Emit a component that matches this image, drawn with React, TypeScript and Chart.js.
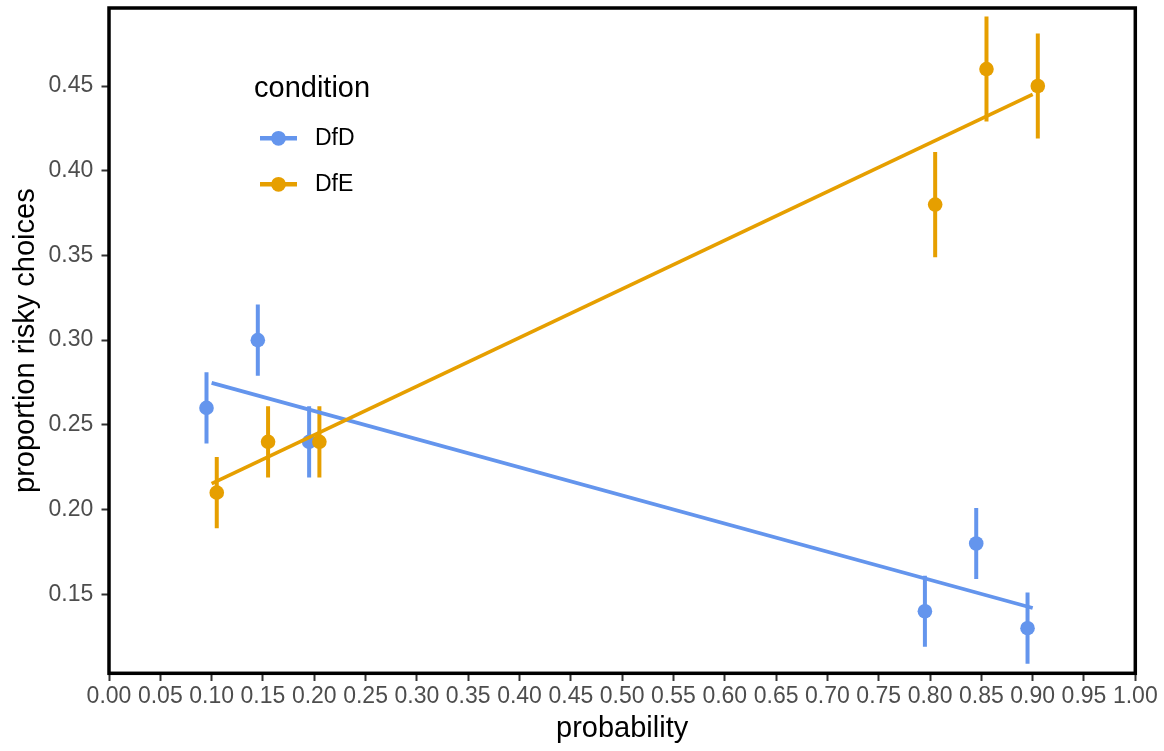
import React, { useEffect, useRef } from "react";
import { Chart, registerables } from "chart.js";

Chart.register(...registerables);

// ---- data ----
const conditionLabels = ["DfD", "DfE"];
const conditionColors = ["#6495ED", "#E69F00"];

// dodged probability positions
const dfdX = [0.095, 0.145, 0.195, 0.795, 0.845, 0.895];
const dfeX = [0.105, 0.155, 0.205, 0.805, 0.855, 0.905];

const dfdValues = [0.26, 0.3, 0.24, 0.14, 0.18, 0.13];
const dfeValues = [0.21, 0.24, 0.24, 0.38, 0.46, 0.45];

const dfdErrors = [0.021, 0.021, 0.021, 0.021, 0.021, 0.021];
const dfeErrors = [0.021, 0.021, 0.021, 0.031, 0.031, 0.031];

// fitted regression lines (endpoints)
const dfdFitX = [0.1, 0.9];
const dfdFitY = [0.2748, 0.1419];
const dfeFitX = [0.1, 0.9];
const dfeFitY = [0.2153, 0.4451];

const xTickValues = [
  0, 0.05, 0.1, 0.15, 0.2, 0.25, 0.3, 0.35, 0.4, 0.45, 0.5, 0.55, 0.6, 0.65,
  0.7, 0.75, 0.8, 0.85, 0.9, 0.95, 1.0,
];
const yTickValues = [0.15, 0.2, 0.25, 0.3, 0.35, 0.4, 0.45];

const xTitle = "probability";
const yTitle = "proportion risky choices";
const legendTitle = "condition";

const FONT = "'Liberation Sans', Arial, Helvetica, sans-serif";

function points(xs: number[], ys: number[]) {
  return xs.map((x, i) => ({ x, y: ys[i] }));
}

function errorSegments(xs: number[], ys: number[], es: number[]) {
  const out: { x: number; y: number | null }[] = [];
  xs.forEach((x, i) => {
    out.push({ x, y: ys[i] - es[i] });
    out.push({ x, y: ys[i] + es[i] });
    out.push({ x, y: null });
  });
  return out;
}

const panelPlugin = {
  id: "panelAndLegend",
  afterDatasetsDraw(chart: any) {
    const { ctx, chartArea: a } = chart;
    ctx.save();
    // panel border
    ctx.strokeStyle = "#000000";
    ctx.lineWidth = 3.5;
    ctx.strokeRect(a.left, a.top, a.right - a.left, a.bottom - a.top);

    // legend inside panel
    ctx.fillStyle = "#000000";
    ctx.font = `29px ${FONT}`;
    ctx.textAlign = "left";
    ctx.textBaseline = "alphabetic";
    ctx.fillText(legendTitle, 254, 97.3);

    const rowY = [138.3, 184.3];
    conditionLabels.forEach((lab, i) => {
      const y = rowY[i];
      const c = conditionColors[i];
      ctx.strokeStyle = c;
      ctx.lineWidth = 4.5;
      ctx.lineCap = "butt";
      ctx.beginPath();
      ctx.moveTo(260, y);
      ctx.lineTo(297, y);
      ctx.stroke();
      ctx.fillStyle = c;
      ctx.beginPath();
      ctx.arc(278.5, y, 7.4, 0, Math.PI * 2);
      ctx.fill();
      ctx.fillStyle = "#000000";
      ctx.font = `23px ${FONT}`;
      ctx.textBaseline = "middle";
      ctx.fillText(lab, 315, y);
    });
    ctx.restore();
  },
};

export default function App() {
  const canvasRef = useRef<HTMLCanvasElement | null>(null);

  useEffect(() => {
    const canvas = canvasRef.current;
    if (!canvas) return;

    const barStyle = (color: string, order: number) => ({
      type: "line" as const,
      borderColor: color,
      backgroundColor: color,
      borderWidth: 4,
      borderCapStyle: "butt" as const,
      pointRadius: 0,
      pointHoverRadius: 0,
      spanGaps: false,
      showLine: true,
      order,
    });
    const pointStyle = (color: string, order: number) => ({
      type: "line" as const,
      borderColor: color,
      backgroundColor: color,
      pointBackgroundColor: color,
      pointBorderWidth: 0,
      pointRadius: 7.3,
      showLine: false,
      order,
    });
    const fitStyle = (color: string, order: number) => ({
      type: "line" as const,
      borderColor: color,
      backgroundColor: color,
      borderWidth: 3.7,
      borderCapStyle: "butt" as const,
      pointRadius: 0,
      showLine: true,
      order,
    });

    const chart = new Chart(canvas, {
      type: "line",
      data: {
        datasets: [
          { label: conditionLabels[0] + " err", data: errorSegments(dfdX, dfdValues, dfdErrors), ...barStyle(conditionColors[0], 5) },
          { label: conditionLabels[0], data: points(dfdX, dfdValues), ...pointStyle(conditionColors[0], 4) },
          { label: conditionLabels[1] + " err", data: errorSegments(dfeX, dfeValues, dfeErrors), ...barStyle(conditionColors[1], 3) },
          { label: conditionLabels[1], data: points(dfeX, dfeValues), ...pointStyle(conditionColors[1], 2) },
          { label: conditionLabels[0] + " fit", data: points(dfdFitX, dfdFitY), ...fitStyle(conditionColors[0], 1) },
          { label: conditionLabels[1] + " fit", data: points(dfeFitX, dfeFitY), ...fitStyle(conditionColors[1], 0) },
        ] as any,
      },
      options: {
        responsive: false,
        animation: false,
        devicePixelRatio: 1,
        layout: { padding: { top: 8, right: 28.7, bottom: 0, left: 0 } },
        plugins: {
          legend: { display: false },
          tooltip: { enabled: false },
          title: { display: false },
        },
        elements: { line: { tension: 0 } },
        scales: {
          x: {
            type: "linear",
            position: "bottom",
            min: 0,
            max: 1,
            afterBuildTicks: (s: any) => {
              s.ticks = xTickValues.map((value) => ({ value }));
            },
            afterFit: (s: any) => {
              s.height = 751 - 673.3;
              s.paddingLeft = 0;
              s.paddingRight = 0;
              s.paddingTop = 0;
              s.paddingBottom = 0;
            },
            border: { display: false },
            grid: {
              display: true,
              drawOnChartArea: false,
              drawTicks: true,
              tickLength: 7.7,
              tickColor: "#333333",
              tickWidth: 2,
            },
            ticks: {
              autoSkip: false,
              maxRotation: 0,
              minRotation: 0,
              padding: 1.5,
              color: "#4D4D4D",
              font: { family: FONT, size: 23 },
              callback: (v: any) => Number(v).toFixed(2),
            },
            title: {
              display: true,
              text: xTitle,
              color: "#000000",
              font: { family: FONT, size: 29 },
              padding: { top: 0, bottom: 4.3 },
            },
          },
          y: {
            type: "linear",
            position: "left",
            min: 0.10337,
            max: 0.49604,
            afterBuildTicks: (s: any) => {
              s.ticks = yTickValues.map((value) => ({ value }));
            },
            afterFit: (s: any) => {
              s.width = 109;
              s.paddingLeft = 0;
              s.paddingRight = 0;
              s.paddingTop = 0;
              s.paddingBottom = 0;
            },
            border: { display: false },
            grid: {
              display: true,
              drawOnChartArea: false,
              drawTicks: true,
              tickLength: 7.5,
              tickColor: "#333333",
              tickWidth: 2,
            },
            ticks: {
              padding: 8.2,
              color: "#4D4D4D",
              font: { family: FONT, size: 23 },
              callback: (v: any) => Number(v).toFixed(2),
            },
            title: {
              display: true,
              text: yTitle,
              color: "#000000",
              font: { family: FONT, size: 29 },
              padding: { top: 8.6, bottom: 0 },
            },
          },
        },
      } as any,
      plugins: [panelPlugin],
    });

    return () => chart.destroy();
  }, []);

  return (
    <div style={{ position: "fixed", left: 0, top: 0, width: 1164, height: 751, background: "#ffffff" }}>
      <canvas ref={canvasRef} width={1164} height={751} style={{ width: 1164, height: 751, display: "block" }} />
    </div>
  );
}
